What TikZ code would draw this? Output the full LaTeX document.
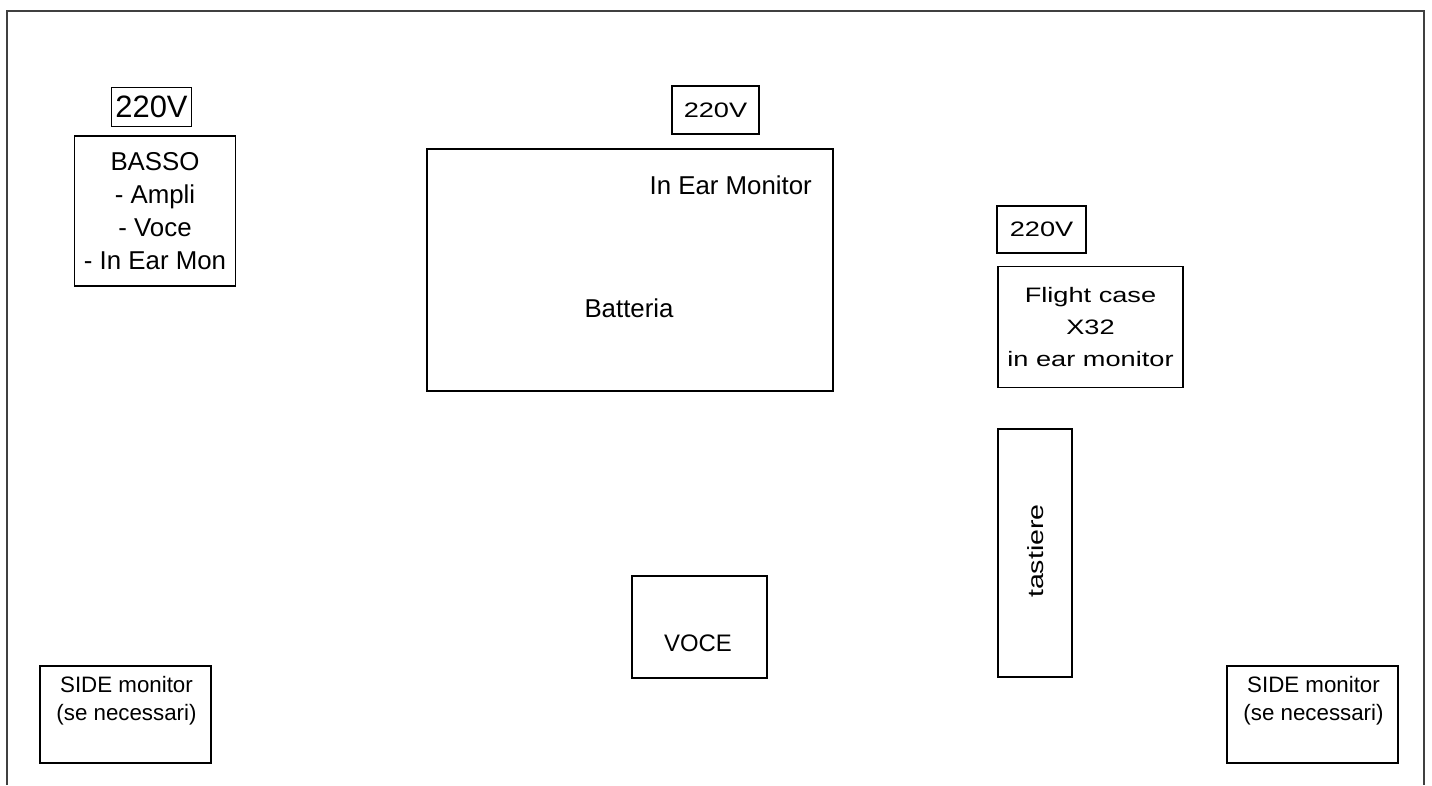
\documentclass[tikz,border=0pt]{standalone}
\usepackage{fontspec}
\setmainfont{Liberation Sans}
\newfontfamily\squarefont[FakeStretch=1.3]{Liberation Sans}

\begin{document}
\begin{tikzpicture}[x=0.02cm, y=-0.02cm,
    box/.style={draw, line width=1pt, inner sep=0pt},
    plug/.style={draw, line width=0.8pt, inner sep=0pt}]
  \useasboundingbox (0,0) rectangle (1432,785);
  % Stage outline (open at the front)
  \draw[line width=1.1pt, black!75] (7,785) -- (7,11) -- (1424,11) -- (1424,785);
  % Bass corner
  \node[plug, minimum width=1.6cm, minimum height=0.78cm, font=\fontsize{17.6}{20}\selectfont]
    (pwrbasso) at (151.5,107) {220V};
  \node[box, minimum width=3.22cm, minimum height=3cm, align=center,
    font=\fontsize{14.7}{18.7}\selectfont]
    (basso) at (155,211) {BASSO\\- Ampli\\- Voce\\- In Ear Mon};
  % Drums
  \node[plug, minimum width=1.74cm, minimum height=0.96cm, font=\squarefont\fontsize{11.9}{14}\selectfont]
    (pwrdrum) at (715.5,110) {220V};
  \node[box, minimum width=8.12cm, minimum height=4.84cm] (batteria) at (630,270) {};
  \node[anchor=east, font=\fontsize{14.7}{17}\selectfont] (iem) at (818,185) {In Ear Monitor};
  \node[font=\fontsize{14.7}{17}\selectfont] (battlabel) at (629,308) {Batteria};
  % Mixer and keyboards
  \node[plug, minimum width=1.78cm, minimum height=0.94cm, font=\squarefont\fontsize{11.9}{14}\selectfont]
    (pwrcase) at (1041.5,229.5) {220V};
  \node[box, minimum width=3.7cm, minimum height=2.42cm, align=center,
    font=\squarefont\fontsize{11.9}{18}\selectfont]
    (flightcase) at (1090.5,327) {Flight case\\X32\\in ear monitor};
  \node[box, minimum width=1.48cm, minimum height=4.96cm] (tastiere) at (1035,553) {};
  \node[rotate=90, font=\squarefont\fontsize{12.5}{14}\selectfont] (tastlabel) at (1036,551) {tastiere};
  % Lead vocal
  \node[box, minimum width=2.7cm, minimum height=2.04cm] (voce) at (699.5,627) {};
  \node[font=\fontsize{13.6}{15}\selectfont] (vocelabel) at (698,643) {VOCE};
  % Side monitors
  \foreach \name/\x in {sidel/125.5, sider/1312.5} {
    \node[box, minimum width=3.42cm, minimum height=1.94cm] (\name) at (\x,714.5) {};
    \node[align=center, font=\fontsize{12.7}{15.9}\selectfont] (\name label) at (\x+1,701)
      {SIDE monitor\\(se necessari)};
  }
\end{tikzpicture}
\end{document}
